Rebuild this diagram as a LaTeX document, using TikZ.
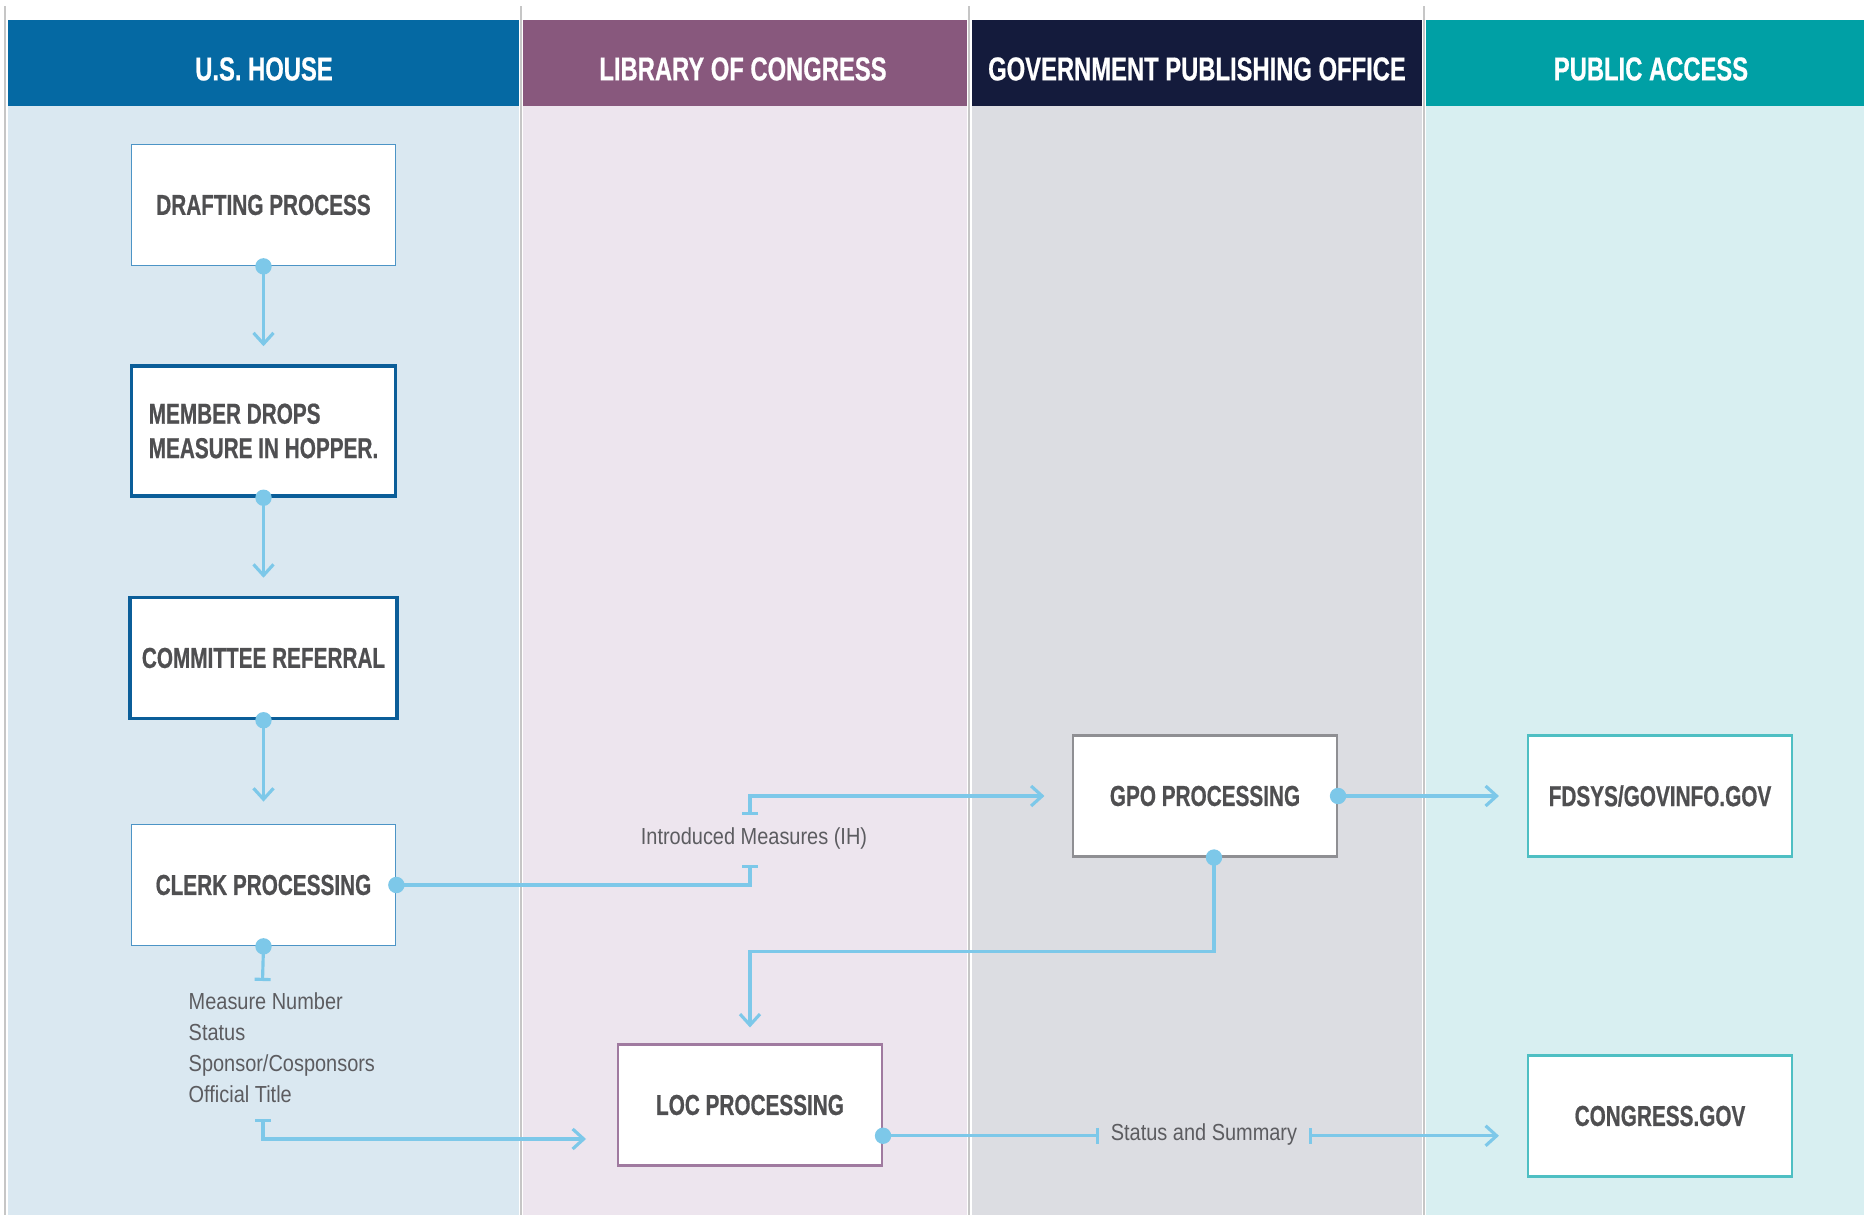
\documentclass[tikz,border=0pt]{standalone}
\usepackage{fontspec}
\newfontfamily\boxfont[FakeStretch=0.72,BoldFeatures={FakeBold=0.6}]{Liberation Sans}
\newfontfamily\notefont[FakeStretch=0.86]{Liberation Sans}
\usetikzlibrary{arrows.meta}
\usetikzlibrary{calc}
\definecolor{househead}{HTML}{0569A3}
\definecolor{houseback}{HTML}{DAE8F1}
\definecolor{lochead}{HTML}{88587D}
\definecolor{locback}{HTML}{EDE5EE}
\definecolor{gpohead}{HTML}{141B3C}
\definecolor{gpoback}{HTML}{DCDDE2}
\definecolor{pubhead}{HTML}{00A0A5}
\definecolor{pubback}{HTML}{D8EFF1}
\definecolor{lineblue}{HTML}{7DC8E9}
\definecolor{boxtext}{HTML}{4F4F51}
\definecolor{notetext}{HTML}{5C5C60}
\definecolor{houseline}{HTML}{4C94C6}
\definecolor{housedark}{HTML}{0B5E99}
\definecolor{gpoline}{HTML}{8F8F93}
\definecolor{locline}{HTML}{A07AA0}
\definecolor{publine}{HTML}{4EBFC3}
\newcommand*\dotat[1]{\fill[lineblue](#1)circle(0.082);}

\begin{document}
\begin{tikzpicture}[>={Straight Barb[length=0.11cm,width=0.2cm]}]
			\tikzstyle{flow}=[draw=lineblue,line width=0.9pt];
			\tikzstyle{procbox}=[rectangle,fill=white,minimum width=2.64cm,minimum height=1.21cm,text=boxtext,font=\boxfont\bfseries\fontsize{8.2}{9.8}\selectfont];
			\tikzstyle{thinbox}=[procbox,draw=houseline,line width=0.5pt];
			\tikzstyle{heavybox}=[procbox,draw=housedark,line width=1pt];
			\tikzstyle{head}=[text=white,font=\boxfont\bfseries\fontsize{9.4}{11}\selectfont];
			\tikzstyle{note}=[text=notetext,font=\notefont\fontsize{6.6}{8.8}\selectfont];
			\tikzstyle{tbar}=[-{Bar[width=0.16cm]}];
			\useasboundingbox(0,0)rectangle(18.64,12.15);
			\fill[white](0,0)rectangle(18.64,12.15);
			% lanes
			\fill[houseback](0.08,0)rectangle(5.19,11.09);
			\fill[locback](5.23,0)rectangle(9.67,11.09);
			\fill[gpoback](9.72,0)rectangle(14.22,11.09);
			\fill[pubback](14.26,0)rectangle(18.64,11.09);
			\fill[househead](0.08,11.09)rectangle(5.19,11.95);
			\fill[lochead](5.23,11.09)rectangle(9.67,11.95);
			\fill[gpohead](9.72,11.09)rectangle(14.22,11.95);
			\fill[pubhead](14.26,11.09)rectangle(18.64,11.95);
			\foreach \x in {0.05,5.21,9.69,14.24}
				\draw[gray!45,line width=0.4pt](\x,0)--(\x,12.09);
			\node[head](thouse)at(2.64,11.46){U.S. HOUSE};
			\node[head](tloc)at(7.43,11.46){LIBRARY OF CONGRESS};
			\node[head](tgpo)at(11.97,11.46){GOVERNMENT PUBLISHING OFFICE};
			\node[head](tpub)at(16.51,11.46){PUBLIC ACCESS};
			% boxes
			\node[thinbox](draft)at(2.635,10.10){DRAFTING PROCESS};
			\node[heavybox,minimum height=1.3cm,align=left](member)at(2.635,7.84){MEMBER DROPS\\MEASURE IN HOPPER.};
			\node[heavybox](committee)at(2.635,5.57){COMMITTEE REFERRAL};
			\node[thinbox](clerk)at(2.635,3.30){CLERK PROCESSING};
			\node[procbox,draw=gpoline,line width=0.6pt](gpo)at(12.05,4.19){GPO PROCESSING};
			\node[procbox,draw=publine,line width=0.6pt](fdsys)at(16.60,4.19){FDSYS/GOVINFO.GOV};
			\node[procbox,draw=locline,line width=0.6pt](loc)at(7.50,1.10){LOC PROCESSING};
			\node[procbox,draw=publine,line width=0.6pt](congress)at(16.60,0.99){CONGRESS.GOV};
			% labels
			\node[note](ih)at(7.54,3.76){Introduced Measures (IH)};
			\node[note,anchor=north west,inner sep=0pt,align=left](data)at(1.88,2.23){Measure Number\\Status\\Sponsor/Cosponsors\\Official Title};
			\node[note,inner xsep=0.11cm](ss)at(12.04,0.80){Status and Summary};
			\coordinate(ihlow)at(7.50,3.50);
			\coordinate(ihup)at(7.50,4.00);
			\coordinate(datatop)at(2.625,2.34);
			\coordinate(databot)at(2.63,0.96);
			\coordinate(locin)at(5.86,0.76);
			\coordinate(locout)at($(loc.south east)!0.25!(loc.north east)$);
			\coordinate(gpobot)at([xshift=0.09cm]gpo.south);
			% connectors
			\draw[flow,->,shorten >=0.18cm](draft.south)--(member.north);
			\draw[flow,->,shorten >=0.18cm](member.south)--(committee.north);
			\draw[flow,->,shorten >=0.22cm](committee.south)--(clerk.north);
			\draw[flow,tbar](clerk.east)-|(ihlow);
			\draw[flow,{Bar[width=0.16cm]}->,shorten >=0.275cm](ihup)|-(gpo.west);
			\draw[flow,tbar](clerk.south)--(datatop);
			\draw[flow,{Bar[width=0.16cm]}->](databot)|-(locin);
			\draw[flow,->,shorten >=0.28cm](gpo.east)--(fdsys.west);
			\draw[flow,->,shorten >=0.16cm](gpobot)--++(0,-0.94)-|(loc.north);
			\draw[flow,tbar](locout)--(ss.west|-locout);
			\draw[flow,{Bar[width=0.16cm]}->,shorten >=0.28cm](ss.east|-locout)--(locout-|congress.west);
			\dotat{draft.south}
			\dotat{member.south}
			\dotat{committee.south}
			\dotat{clerk.east}
			\dotat{clerk.south}
			\dotat{gpo.east}
			\dotat{gpobot}
			\dotat{locout}
\end{tikzpicture}
\end{document}
